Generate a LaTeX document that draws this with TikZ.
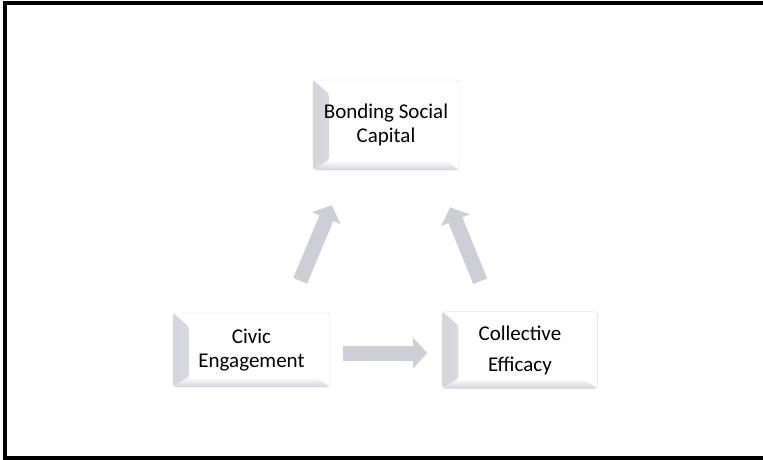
\documentclass[tikz,border=0pt]{standalone}
\usepackage{fontspec}
\setmainfont{Carlito}
\usetikzlibrary{positioning,arrows.meta}
\definecolor{arrowgray}{RGB}{206,206,214}
\definecolor{bevelgray}{RGB}{212,212,220}

\begin{document}
\begin{tikzpicture}[x=1pt, y=-1pt,
  box/.style={draw=gray!30, fill=white, rounded corners=3pt, minimum width=152pt, minimum height=78pt,
    align=center, font=\fontsize{21}{24}\selectfont, inner sep=0pt,
    path picture={
      \shade[left color=bevelgray, right color=white]
        (path picture bounding box.south west) -- (path picture bounding box.north west)
        -- ([xshift=16pt,yshift=-14pt]path picture bounding box.north west)
        -- ([xshift=16pt,yshift=10pt]path picture bounding box.south west) -- cycle;
      \shade[bottom color=bevelgray, top color=white]
        (path picture bounding box.south west) -- (path picture bounding box.south east)
        -- ([xshift=-14pt,yshift=10pt]path picture bounding box.south east)
        -- ([xshift=16pt,yshift=10pt]path picture bounding box.south west) -- cycle;
    }},
  blockarrow/.style={draw=arrowgray, line width=15pt, -{Triangle[width=30pt,length=14pt]}}
]
\useasboundingbox (0,0) rectangle (763,460);

% frame
\draw[line width=4pt] (5,3) rectangle (780,458);

% boxes
\node[box, minimum width=146pt, minimum height=90pt] (bond) at (386,125) {Bonding Social\\Capital};
\node[box, minimum width=157pt, minimum height=74pt] (civ) at (251.5,350) {Civic\\Engagement};
\node[box, minimum width=155pt, minimum height=77pt, right=112pt of civ] (col) {Collective\\[7pt]Efficacy};

% arrows
\draw[blockarrow] ([xshift=-30pt,yshift=32pt]civ.north east) -- ([xshift=19pt,yshift=-35pt]bond.south west);
\draw[blockarrow] ([xshift=38pt,yshift=30pt]col.north west) -- ([xshift=-9pt,yshift=-37pt]bond.south east);
\draw[blockarrow] ([xshift=13pt,yshift=-3pt]civ.east) -- ([xshift=-15pt,yshift=-3pt]col.west);

\end{tikzpicture}
\end{document}
